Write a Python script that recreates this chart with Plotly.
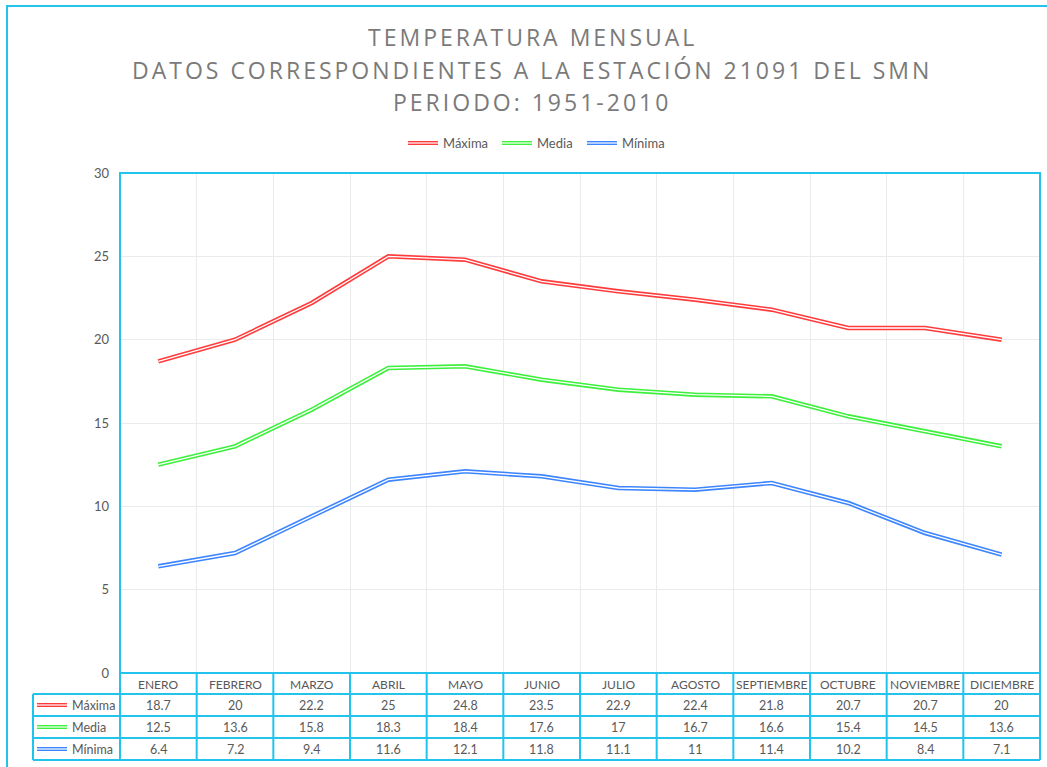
import plotly.graph_objects as go

meses = ["ENERO", "FEBRERO", "MARZO", "ABRIL", "MAYO", "JUNIO", "JULIO",
         "AGOSTO", "SEPTIEMBRE", "OCTUBRE", "NOVIEMBRE", "DICIEMBRE"]
maxima = [18.7, 20, 22.2, 25, 24.8, 23.5, 22.9, 22.4, 21.8, 20.7, 20.7, 20]
media = [12.5, 13.6, 15.8, 18.3, 18.4, 17.6, 17, 16.7, 16.6, 15.4, 14.5, 13.6]
minima = [6.4, 7.2, 9.4, 11.6, 12.1, 11.8, 11.1, 11, 11.4, 10.2, 8.4, 7.1]
series_names = ["Máxima", "Media", "Mínima"]
series_values = [maxima, media, minima]
series_colors = ["#FF3B3B", "#3CF03C", "#3D85FF"]
title_lines = ["TEMPERATURA MENSUAL",
               "DATOS CORRESPONDIENTES A LA ESTACIÓN 21091 DEL SMN",
               "PERIODO: 1951-2010"]

W, H = 1047, 767
L, R, T, B = 120, 1040, 173, 673
CYAN = "#22C4EE"
TXT = "#595959"
SMALL = dict(family="Lato, Open Sans, sans-serif", size=12, color=TXT)
VALF = dict(family="Lato, Open Sans, sans-serif", size=12.5, color=TXT)


def px(x):
    return (x - L) / (R - L)


def py(y):
    return (B - y) / (B - T)


fig = go.Figure()
for name, vals, col in zip(series_names, series_values, series_colors):
    fig.add_trace(go.Scatter(x=meses, y=vals, mode="lines", name=name,
                             line=dict(color=col, width=4.5), showlegend=False,
                             hoverinfo="skip"))
    fig.add_trace(go.Scatter(x=meses, y=vals, mode="lines", name=name,
                             line=dict(color="white", width=1.3), showlegend=False,
                             hoverinfo="skip"))

shapes = []
annotations = []

# outer chart frame
shapes.append(dict(type="rect", xref="paper", yref="paper",
                   x0=px(7), x1=px(1060), y0=py(6), y1=py(780),
                   line=dict(color=CYAN, width=2)))
# plot area border
shapes.append(dict(type="rect", xref="paper", yref="paper",
                   x0=0, x1=1, y0=0, y1=1, line=dict(color=CYAN, width=2)))

# data table
rows_y = [673, 694, 716, 738, 760]
shapes.append(dict(type="line", xref="paper", yref="paper",
                   x0=0, x1=1, y0=py(694), y1=py(694),
                   line=dict(color=CYAN, width=2)))
for yy in rows_y[1:]:
    shapes.append(dict(type="line", xref="paper", yref="paper",
                       x0=px(33), x1=1, y0=py(yy), y1=py(yy),
                       line=dict(color=CYAN, width=2)))
shapes.append(dict(type="line", xref="paper", yref="paper",
                   x0=px(33), x1=px(33), y0=py(694), y1=py(760),
                   line=dict(color=CYAN, width=2)))
for xp in [0, 1]:
    shapes.append(dict(type="line", xref="paper", yref="paper",
                       x0=xp, x1=xp, y0=py(673), y1=py(760),
                       line=dict(color=CYAN, width=2)))
for i in range(1, len(meses)):
    shapes.append(dict(type="line", xref="x", yref="paper",
                       x0=i - 0.5, x1=i - 0.5, y0=py(673), y1=py(760),
                       line=dict(color=CYAN, width=2)))

# header row
for m in meses:
    annotations.append(dict(x=m, xref="x", y=py(684), yref="paper",
                            text=m, showarrow=False, font=SMALL,
                            xanchor="center", yanchor="middle"))
row_centers = [705, 727, 749]
for name, vals, col, yc in zip(series_names, series_values, series_colors, row_centers):
    for m, v in zip(meses, vals):
        annotations.append(dict(x=m, xref="x", y=py(yc), yref="paper",
                                text=f"{v:g}", showarrow=False, font=VALF,
                                xanchor="center", yanchor="middle"))
    # legend key in table
    shapes.append(dict(type="line", xref="paper", yref="paper",
                       x0=px(37), x1=px(67), y0=py(yc), y1=py(yc),
                       line=dict(color=col, width=4)))
    shapes.append(dict(type="line", xref="paper", yref="paper",
                       x0=px(37), x1=px(67), y0=py(yc), y1=py(yc),
                       line=dict(color="white", width=1.2)))
    annotations.append(dict(x=px(70), xref="paper", y=py(yc), yref="paper",
                            text=name, showarrow=False, font=VALF,
                            xanchor="left", yanchor="middle"))

# top legend
leg_x = [408, 502, 587]
for name, col, lx in zip(series_names, series_colors, leg_x):
    shapes.append(dict(type="line", xref="paper", yref="paper",
                       x0=px(lx), x1=px(lx + 30), y0=py(143), y1=py(143),
                       line=dict(color=col, width=4)))
    shapes.append(dict(type="line", xref="paper", yref="paper",
                       x0=px(lx), x1=px(lx + 30), y0=py(143), y1=py(143),
                       line=dict(color="white", width=1.2)))
    annotations.append(dict(x=px(lx + 33), xref="paper", y=py(143), yref="paper",
                            text=name, showarrow=False,
                            font=dict(family=SMALL["family"], size=13, color=TXT),
                            xanchor="left", yanchor="middle"))

# title
for line, yc in zip(title_lines, [37, 70, 102]):
    annotations.append(dict(x=px(532), xref="paper", y=py(yc), yref="paper",
                            text=f'<span style="letter-spacing:3px">{line}</span>',
                            showarrow=False,
                            font=dict(family="Open Sans, sans-serif", size=23,
                                      color="#7A7A7A"),
                            xanchor="center", yanchor="middle"))

fig.update_layout(
    width=W, height=H,
    margin=dict(l=L, r=W - R, t=T, b=H - B),
    paper_bgcolor="white", plot_bgcolor="white",
    showlegend=False,
    shapes=shapes, annotations=annotations,
    xaxis=dict(type="category", tickson="boundaries", showgrid=True,
               gridcolor="#EBEBEB", gridwidth=1, showticklabels=False,
               ticks="", showline=False, zeroline=False,
               range=[-0.5, len(meses) - 0.5]),
    yaxis=dict(range=[0, 30], dtick=5, showgrid=True, gridcolor="#EBEBEB",
               gridwidth=1, zeroline=False, showline=False, ticks="",
               tickfont=dict(family=SMALL["family"], size=13, color=TXT),
               ticklabelstandoff=10),
)

fig.write_html("out.html", config={"displayModeBar": False},
               post_script="document.body.style.margin='0';document.body.style.overflow='hidden';")
